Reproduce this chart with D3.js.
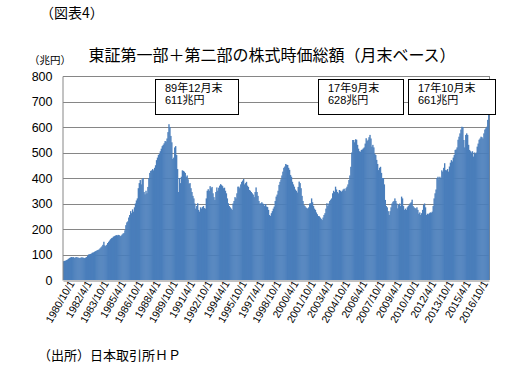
<!DOCTYPE html>
<html>
<head>
<meta charset="utf-8">
<script src="https://cdn.jsdelivr.net/npm/d3@7"></script>
<style>
    body { margin: 0; background: #fff; }
    text { font-family: "Noto Sans CJK JP", "Noto Sans", sans-serif; fill: #000; }
</style>
</head>
<body>
<svg id="chart" width="519" height="377"></svg>
<script>
// monthly, 1980/10 .. 2017/10 (兆円)
var v1980 = [74, 75, 76];
var v1981 = [78, 80, 83, 86, 88, 90, 89, 90, 87, 88, 90, 89];
var v1982 = [88, 87, 86, 88, 89, 88, 87, 86, 88, 90, 95, 100];
var v1983 = [101, 102, 104, 107, 108, 110, 113, 114, 117, 118, 120, 124];
var v1984 = [128, 132, 138, 150, 136, 133, 138, 145, 150, 155, 160, 164];
var v1985 = [166, 170, 172, 174, 176, 175, 177, 176, 172, 174, 178, 182];
var v1986 = [184, 195, 215, 226, 230, 245, 255, 270, 262, 277, 268, 285];
var v1987 = [300, 312, 320, 360, 380, 392, 375, 395, 400, 345, 336, 350];
var v1988 = [340, 365, 400, 420, 428, 430, 435, 430, 440, 450, 470, 480];
var v1989 = [490, 495, 505, 515, 525, 530, 536, 545, 543, 555, 580, 611];
var v1990 = [600, 565, 540, 475, 480, 520, 525, 490, 435, 345, 400, 380];
var v1991 = [405, 430, 428, 425, 420, 405, 410, 395, 378, 380, 360, 345];
var v1992 = [330, 320, 300, 280, 290, 301, 275, 268, 285, 280, 286, 290];
var v1993 = [282, 280, 320, 350, 356, 350, 368, 360, 365, 340, 325, 314];
var v1994 = [345, 363, 350, 362, 370, 376, 372, 368, 360, 362, 350, 340];
var v1995 = [320, 301, 290, 285, 280, 275, 300, 310, 325, 320, 340, 366];
var v1996 = [366, 360, 375, 385, 390, 396, 375, 380, 385, 370, 365, 353];
var v1997 = [350, 345, 340, 335, 325, 345, 363, 345, 330, 310, 300, 301];
var v1998 = [305, 300, 297, 290, 298, 288, 286, 275, 255, 251, 262, 270];
var v1999 = [280, 288, 310, 327, 335, 350, 373, 385, 395, 410, 425, 440];
var v2000 = [445, 455, 452, 451, 440, 432, 412, 405, 385, 375, 366, 355];
var v2001 = [350, 343, 365, 386, 380, 360, 330, 310, 294, 290, 285, 282];
var v2002 = [280, 285, 300, 301, 320, 305, 290, 280, 275, 265, 258, 251];
var v2003 = [250, 245, 240, 235, 245, 255, 262, 280, 301, 290, 300, 310];
var v2004 = [315, 320, 340, 350, 345, 366, 355, 345, 340, 353, 350, 346];
var v2005 = [350, 355, 358, 350, 360, 366, 375, 392, 410, 444, 500, 549];
var v2006 = [549, 540, 552, 550, 530, 515, 505, 503, 510, 512, 516, 520];
var v2007 = [535, 556, 545, 550, 560, 569, 555, 523, 530, 520, 495, 490];
var v2008 = [471, 455, 431, 440, 444, 420, 400, 400, 375, 314, 290, 285];
var v2009 = [270, 255, 270, 285, 300, 307, 310, 320, 310, 300, 281, 295];
var v2010 = [300, 290, 327, 320, 290, 275, 280, 275, 285, 290, 295, 301];
var v2011 = [305, 315, 290, 285, 282, 280, 285, 275, 260, 265, 255, 262];
var v2012 = [275, 294, 300, 285, 255, 260, 258, 262, 265, 264, 268, 290];
var v2013 = [320, 340, 355, 400, 405, 395, 405, 400, 430, 425, 440, 458];
var v2014 = [431, 430, 435, 425, 445, 460, 470, 465, 480, 490, 510, 512];
var v2015 = [520, 550, 562, 575, 590, 601, 600, 549, 520, 569, 575, 569];
var v2016 = [530, 510, 505, 500, 505, 484, 500, 495, 500, 523, 535, 550];
var v2017 = [555, 562, 560, 555, 575, 590, 595, 601, 628, 661];

var yTicks = [0, 100, 200, 300, 400, 500, 600, 700, 800];

var notes = [
    { month: "1989/12/1", line1: "89年12月末", line2: "611兆円" },
    { month: "2017/9/1", line1: "17年9月末", line2: "628兆円" },
    { month: "2017/10/1", line1: "17年10月末", line2: "661兆円" }
];

var values = [].concat(v1980, v1981, v1982, v1983, v1984, v1985, v1986, v1987, v1988,
    v1989, v1990, v1991, v1992, v1993, v1994, v1995, v1996, v1997, v1998, v1999,
    v2000, v2001, v2002, v2003, v2004, v2005, v2006, v2007, v2008, v2009, v2010,
    v2011, v2012, v2013, v2014, v2015, v2016, v2017);

// month labels "yyyy/m/1" starting 1980/10
var data = values.map(function(v, i) {
    var m = 9 + i;
    return { date: (1980 + Math.floor(m / 12)) + "/" + (m % 12 + 1) + "/1", value: v };
});

var svg = d3.select("#chart");
var margin = { left: 63, right: 30, top: 76, bottom: 97 };
var W = 519, H = 377;
var grey = "#868686";

var x = d3.scaleBand()
    .domain(data.map(d => d.date))
    .range([margin.left, W - margin.right])
    .padding(0);

var y = d3.scaleLinear()
    .domain([0, 800])
    .range([H - margin.bottom, margin.top]);

// gridlines
svg.append("g").selectAll("line")
    .data(yTicks.slice(1))
    .join("line")
    .attr("x1", margin.left)
    .attr("x2", W - margin.right)
    .attr("y1", d => Math.round(y(d)) + 0.5)
    .attr("y2", d => Math.round(y(d)) + 0.5)
    .attr("stroke", grey)
    .attr("stroke-width", 1);

// right border
svg.append("line")
    .attr("x1", W - margin.right + 0.5).attr("x2", W - margin.right + 0.5)
    .attr("y1", margin.top).attr("y2", H - margin.bottom)
    .attr("stroke", grey);

// bars
svg.append("g").selectAll("rect")
    .data(data)
    .join("rect")
    .attr("x", d => x(d.date))
    .attr("width", x.bandwidth() + 0.4)
    .attr("y", d => y(d.value))
    .attr("height", d => y(0) - y(d.value))
    .attr("fill", "#4a7ebb");

// y axis
var yAxis = svg.append("g")
    .attr("transform", "translate(" + (margin.left - 0.5) + ",0)")
    .call(d3.axisLeft(y).tickValues(yTicks).tickSize(0).tickPadding(10));
yAxis.select(".domain").attr("stroke", grey);
yAxis.selectAll("text")
    .style("font-size", "12.5px")
    .style("font-family", "'Liberation Sans', sans-serif");

// x axis, every 18 months
var xAxis = svg.append("g")
    .attr("transform", "translate(0," + (H - margin.bottom + 0.5) + ")")
    .call(d3.axisBottom(x)
        .tickValues(data.filter((d, i) => i % 18 == 0).map(d => d.date))
        .tickSize(0)
        .tickPadding(6));
xAxis.select(".domain").attr("stroke", grey);
xAxis.selectAll("text")
    .style("font-size", "10.5px")
    .style("font-family", "'Liberation Sans', sans-serif")
    .attr("text-anchor", "end")
    .attr("dx", "0.3em")
    .attr("dy", "0.5em")
    .attr("transform", "rotate(-60)");

// annotation boxes
// latin font first so the line box stays tight, kanji fall back to Noto CJK
var boxW = [83, 85, 87];
var boxX = [155, 318, 408];
notes.forEach(function(n, i) {
    var g = svg.append("g");
    g.append("rect")
        .attr("x", boxX[i] + 0.5)
        .attr("y", 79.5)
        .attr("width", boxW[i])
        .attr("height", 35)
        .attr("fill", "#fff")
        .attr("stroke", "#000");
    [n.line1, n.line2].forEach(function(s, k) {
        g.append("text")
            .attr("x", boxX[i] + 10)
            .attr("y", 91.5 + k * 12.5)
            .style("font-family", "'Liberation Sans', 'Noto Sans CJK JP', sans-serif")
            .style("font-size", "11px")
            .text(s);
    });
});

// titles
svg.append("text")
    .attr("x", 40).attr("y", 18)
    .style("font-size", "14px")
    .text("（図表4）");

svg.append("text")
    .attr("x", 272).attr("y", 61)
    .attr("text-anchor", "middle")
    .style("font-size", "16px")
    .text("東証第一部＋第二部の株式時価総額（月末ベース）");

svg.append("text")
    .attr("x", 29).attr("y", 64)
    .style("font-size", "10.5px")
    .text("（兆円）");

svg.append("text")
    .attr("x", 38).attr("y", 360)
    .style("font-size", "13px")
    .text("（出所）日本取引所ＨＰ");
</script>
</body>
</html>
